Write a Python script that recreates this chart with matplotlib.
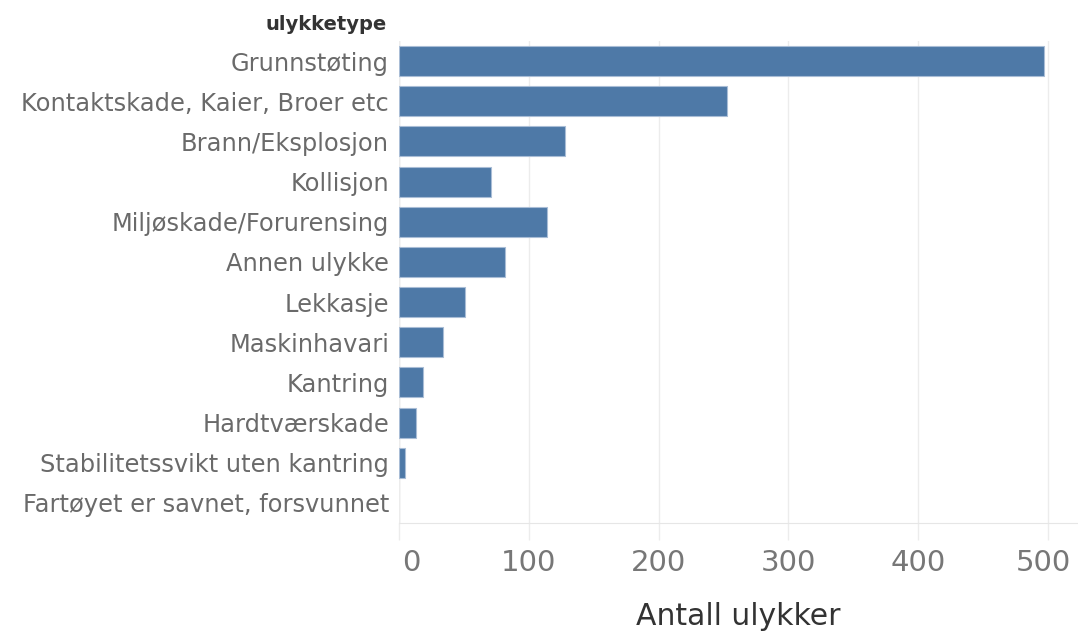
import matplotlib.pyplot as plt
from matplotlib.transforms import ScaledTranslation

# Data
categories = [
    'Grunnstøting',
    'Kontaktskade, Kaier, Broer etc',
    'Brann/Eksplosjon',
    'Kollisjon',
    'Miljøskade/Forurensing',
    'Annen ulykke',
    'Lekkasje',
    'Maskinhavari',
    'Kantring',
    'Hardtværskade',
    'Stabilitetssvikt uten kantring',
    'Fartøyet er savnet, forsvunnet',
]
counts = [497, 253, 128, 71, 114, 82, 51, 34, 19, 13, 5, 0]
x_ticks = [0, 100, 200, 300, 400, 500]

plt.rcParams['font.family'] = ['DejaVu Sans']

fig = plt.figure(figsize=(10.78, 6.33), dpi=100)
ax = fig.add_axes([0.3699, 0.1738, 0.6301, 0.7614])

y = list(range(len(categories)))
edges = ['#a9bdd6' if c > 0 else 'none' for c in counts]
ax.barh(y, counts, height=0.75, color='#4e79a7', edgecolor=edges, linewidth=0.8, zorder=3)

ax.set_ylim(len(categories) - 0.5, -0.5)
ax.set_xlim(0, 523)

ax.set_yticks(y)
ax.set_yticklabels(categories, fontsize=17.4, color='#6a6a6a')
ax.tick_params(axis='y', length=0, pad=7)

ax.set_xticks(x_ticks)
ax.set_xticklabels([str(t) for t in x_ticks], fontsize=21, color='#777777')
ax.tick_params(axis='x', length=12, width=1, color='#ececec', pad=7)

# nudge the end labels inside like the original
labels = ax.get_xticklabels()
labels[0].set_transform(labels[0].get_transform() + ScaledTranslation(13 / 100, 0, fig.dpi_scale_trans))
labels[-1].set_transform(labels[-1].get_transform() + ScaledTranslation(-5 / 100, 0, fig.dpi_scale_trans))

ax.grid(axis='x', color='#ececec', linewidth=1, zorder=0)
for s in ['top', 'right', 'left']:
    ax.spines[s].set_visible(False)
ax.spines['bottom'].set_color('#e6e6e6')
ax.axvline(0, color='#e0e0e0', linewidth=1, zorder=1)

ax.set_xlabel('Antall ulykker', fontsize=21.5, color='#333333', labelpad=18)

fig.text(387 / 1078, 1 - 24 / 633, 'ulykketype', ha='right', va='center',
         fontsize=14, fontweight='bold', color='#333333')

fig.savefig('out.png', dpi=100)
